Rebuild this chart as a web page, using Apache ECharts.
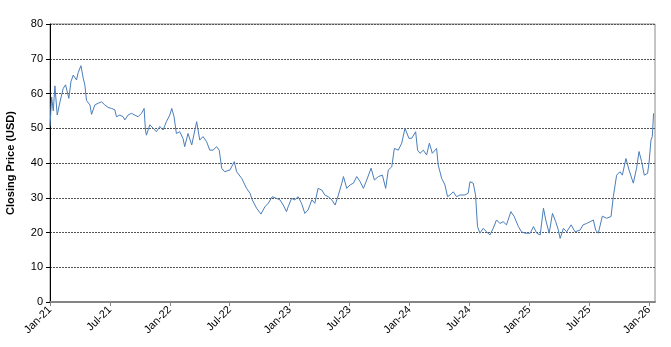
<!DOCTYPE html>
<html><head><meta charset="utf-8">
<script src="https://cdn.jsdelivr.net/npm/echarts@6/dist/echarts.min.js"></script>
<style>html,body{margin:0;padding:0;background:#fff}#c{width:671px;height:347px}</style>
</head><body><div id="c"></div>
<script>
const dates = ["2021-01-01","2021-01-06","2021-01-11","2021-01-16","2021-01-23","2021-02-01","2021-02-11","2021-02-18","2021-02-24","2021-02-28",
"2021-03-04","2021-03-11","2021-03-21","2021-03-26","2021-04-04","2021-04-11","2021-04-16","2021-04-21","2021-05-01","2021-05-06",
"2021-05-16","2021-05-26","2021-06-06","2021-06-16","2021-06-26","2021-07-06","2021-07-16","2021-07-21","2021-08-01","2021-08-11",
"2021-08-16","2021-08-26","2021-09-06","2021-09-16","2021-09-26","2021-10-06","2021-10-14","2021-10-18","2021-10-21","2021-11-01",
"2021-11-11","2021-11-21","2021-12-01","2021-12-11","2021-12-21","2022-01-01","2022-01-07","2022-01-14","2022-01-21","2022-02-01",
"2022-02-11","2022-02-16","2022-02-26","2022-03-07","2022-03-22","2022-04-01","2022-04-11","2022-04-22","2022-05-01","2022-05-11",
"2022-05-22","2022-05-30","2022-06-07","2022-06-16","2022-07-02","2022-07-15","2022-07-22","2022-08-07","2022-08-22","2022-09-02",
"2022-09-09","2022-09-22","2022-10-05","2022-10-17","2022-10-27","2022-11-09","2022-11-22","2022-12-02","2022-12-12","2022-12-22",
"2022-12-27","2023-01-07","2023-01-17","2023-01-27","2023-02-07","2023-02-17","2023-02-27","2023-03-08","2023-03-17","2023-03-27",
"2023-04-08","2023-04-17","2023-04-27","2023-05-08","2023-05-18","2023-05-28","2023-06-08","2023-06-13","2023-06-23","2023-07-03",
"2023-07-13","2023-07-23","2023-08-03","2023-08-13","2023-08-23","2023-09-06","2023-09-16","2023-09-28","2023-10-10","2023-10-20",
"2023-10-28","2023-11-08","2023-11-16","2023-11-28","2023-12-08","2023-12-18","2023-12-23","2023-12-30","2024-01-08","2024-01-13",
"2024-01-20","2024-01-26","2024-02-03","2024-02-13","2024-02-23","2024-03-01","2024-03-10","2024-03-23","2024-03-28","2024-04-08",
"2024-04-18","2024-04-26","2024-05-03","2024-05-13","2024-05-23","2024-06-03","2024-06-18","2024-06-28","2024-07-03","2024-07-13",
"2024-07-20","2024-07-26","2024-08-03","2024-08-13","2024-08-23","2024-09-03","2024-09-13","2024-09-23","2024-10-03","2024-10-13",
"2024-10-23","2024-11-06","2024-11-16","2024-11-29","2024-12-08","2024-12-19","2025-01-04","2025-01-14","2025-01-24","2025-02-04",
"2025-02-14","2025-02-21","2025-03-01","2025-03-11","2025-03-21","2025-03-29","2025-04-04","2025-04-14","2025-04-24","2025-05-07",
"2025-05-19","2025-06-04","2025-06-13","2025-06-24","2025-07-04","2025-07-14","2025-07-21","2025-07-29","2025-08-11","2025-08-24",
"2025-09-07","2025-09-14","2025-09-24","2025-10-04","2025-10-11","2025-10-22","2025-11-01","2025-11-14","2025-11-24","2025-12-01",
"2025-12-09","2025-12-17","2025-12-27","2026-01-01","2026-01-07","2026-01-11","2026-01-15"];
const closes = [50.5,59,55,62.2,53.8,57.6,61.5,62.5,62,58.6,
63.4,65.3,63.9,66,68,64.4,62.4,58,56.7,54,
56.7,57.2,57.6,56.7,56,55.7,55.3,53.3,53.8,53.3,
52.4,53.8,54.3,53.8,53.3,54.3,55.7,49.5,48,51,
50,49,50.5,49.5,51.9,53.8,55.7,53.3,48.5,49,
47,44.7,48.5,45.2,51.9,46.6,47.6,46.1,43.7,43.7,
44.7,43.7,38.5,37.5,38,40.4,37.5,35.6,32.7,31.3,
29.4,27,25.3,27.4,28.4,30.3,29.8,29.4,27.9,26,
27.4,29.8,29.4,30.3,28.4,25.5,26.5,29.4,28.4,32.7,
32.2,30.8,30.3,29.4,27.9,30.8,34.2,36.1,32.7,33.7,
34.2,36.1,34.6,32.7,35.1,38.5,35.1,36.1,36.5,32.7,
38,38.9,44.2,43.7,45.7,50,50.5,47.1,47.1,46.6,
49,43.7,42.8,43.7,42.3,45.7,42.8,44.2,39.4,35.6,
33.7,30.3,30.8,31.7,30.3,30.8,30.8,31.3,34.6,34.2,
30.8,21.7,19.8,21.2,20.2,19.3,21.2,23.6,22.6,23.1,
22.2,26,24.6,21.7,20.2,19.8,19.8,21.7,19.8,19.3,
27,23.6,19.8,25.5,23.1,20.7,18.3,21.2,20.2,22.2,
20.2,20.7,22.2,22.6,23.1,23.6,20.7,19.8,24.7,24.1,
24.6,30.3,36.5,37.5,36.5,41.3,38,34.2,38.5,43.3,
40.4,36.5,37,40,46.6,47.6,54.3];
const tickLabels = ["Jan-21","Jul-21","Jan-22","Jul-22","Jan-23","Jul-23","Jan-24","Jul-24","Jan-25","Jul-25","Jan-26"];
const tickMonths = [0,6,12,18,24,30,36,42,48,54,60];

function monthOffset(s){
  const p = s.split('-').map(Number);
  return (p[0]-2021)*12 + (p[1]-1) + (p[2]-1)/30.44;
}
const seriesData = dates.map((d,i)=>[monthOffset(d), closes[i]]);
const FONT = '"Liberation Sans", Arial, sans-serif';

const chart = echarts.init(document.getElementById('c'), null, {renderer:'canvas'});
chart.setOption({
  animation:false,
  backgroundColor:'#fff',
  grid:{left:50,right:16,top:24,bottom:45,show:true,borderColor:'#8a8a8a',borderWidth:1,containLabel:false,outerBoundsMode:'none'},
  xAxis:{
    type:'value', min:0, max:60.6, interval:6,
    axisLine:{show:true,onZero:false,lineStyle:{color:'#858585',width:2}},
    axisTick:{show:true,customValues:tickMonths,length:4,lineStyle:{color:'#858585'}},
    axisLabel:{customValues:tickMonths,rotate:45,margin:6,fontFamily:FONT,fontSize:11,color:'#000',
      formatter:function(v){const i=tickMonths.indexOf(Math.round(v));return i>=0?tickLabels[i]:'';}},
    splitLine:{show:false}
  },
  yAxis:{
    type:'value', min:0, max:80, interval:10,
    name:'Closing Price (USD)', nameLocation:'middle', nameGap:34,
    nameTextStyle:{fontFamily:FONT,fontSize:11,fontWeight:'bold',color:'#000'},
    axisLine:{show:true,lineStyle:{color:'#000',width:1}},
    axisTick:{show:true,length:4,lineStyle:{color:'#000'}},
    axisLabel:{margin:7,fontFamily:FONT,fontSize:11,color:'#000'},
    splitLine:{show:true,lineStyle:{color:'#555',type:[2,1],width:1}}
  },
  series:[{
    type:'line', data:seriesData, showSymbol:false, symbol:'none',
    lineStyle:{color:'#4a7ebb',width:1}, clip:true
  }]
});
</script>
</body></html>
